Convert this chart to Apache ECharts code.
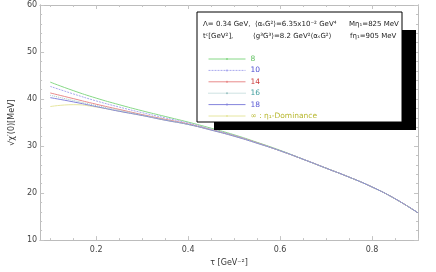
<!DOCTYPE html>
<html><head><meta charset="utf-8">
<script src="https://cdn.jsdelivr.net/npm/echarts@6/dist/echarts.min.js"></script>
<style>html,body{margin:0;padding:0;background:#fff}#c{width:436px;height:272px}</style>
</head><body><div id="c"></div>
<script>
const tau = [0.1,0.15,0.2,0.25,0.3,0.35,0.4,0.45,0.5,0.55,0.6,0.65,0.7,0.75,0.8,0.85,0.9];
const s8   = [43.6,41.8,40.2,38.8,37.5,36.3,35.1,33.8,32.4,30.8,29.1,27.2,25.3,23.4,21.3,18.8,15.8];
const s10  = [42.7,41.1,39.6,38.3,37.1,36.0,34.9,33.6,32.3,30.7,29.0,27.2,25.3,23.4,21.3,18.8,15.8];
const s14  = [41.3,40.1,38.9,37.8,36.7,35.7,34.7,33.5,32.2,30.7,29.0,27.2,25.3,23.4,21.3,18.8,15.8];
const s16  = [40.8,39.7,38.6,37.6,36.6,35.6,34.6,33.5,32.2,30.7,29.0,27.2,25.3,23.4,21.3,18.8,15.8];
const s18  = [40.3,39.4,38.4,37.4,36.5,35.5,34.6,33.4,32.1,30.6,29.0,27.2,25.3,23.4,21.3,18.8,15.8];
const sInf = [38.4,38.8,38.3,37.4,36.5,35.5,34.6,33.4,32.1,30.6,29.0,27.2,25.3,23.4,21.3,18.8,15.8];
const xMajor = [0.2,0.4,0.6,0.8];
const xMinor = [0.1,0.15,0.25,0.3,0.35,0.45,0.5,0.55,0.65,0.7,0.75,0.85,0.9];
const yMajor = [10,20,30,40,50,60];
const yMinor = [12,14,16,18,22,24,26,28,32,34,36,38,42,44,46,48,52,54,56,58];
const names = ['8','10','14','16','18','\u221E : \u03B7\u2081-Dominance'];
const lineColors = ['#86d886','#a8a8ee','#e88a8a','#9cc4c4','#8484dc','#e6e6a0'];
const textColors = ['#66c266','#4b4bd0','#cc3c3c','#3c9c9c','#5a5ad4','#b8b830'];
const lineTypes = ['solid',[2,1],'solid',[1,1],'solid','solid'];
const values = [s8,s10,s14,s16,s18,sInf];

const chart = echarts.init(document.getElementById('c'));
const G = {left:35, right:18, top:5, bottom:30};
const FONT = 'DejaVu Sans';
const axisLineStyle = {color:'#bcbcbc', width:1};
function xAx(pos, ticks, len, labels){
  return {type:'value', min:0.078, max:0.9, position:pos, gridIndex:0,
    axisLine:{show:true, onZero:false, lineStyle:axisLineStyle},
    axisTick:{show:true, inside:true, length:len, customValues:ticks, lineStyle:{color:'#c4c4c4'}},
    axisLabel:{show:labels, customValues:xMajor, color:'#444', fontSize:8, fontFamily:FONT, margin:6,
      formatter:v=>v.toFixed(1)},
    splitLine:{show:false}};
}
function yAx(pos, ticks, len, labels){
  return {type:'value', min:10, max:60, position:pos, gridIndex:0,
    axisLine:{show:true, onZero:false, lineStyle:axisLineStyle},
    axisTick:{show:true, inside:true, length:len, customValues:ticks, lineStyle:{color:'#c4c4c4'}},
    axisLabel:{show:labels, customValues:yMajor, color:'#444', fontSize:8, fontFamily:FONT, margin:3},
    splitLine:{show:false}};
}
const xAxes = [xAx('bottom',xMajor,4,true), xAx('bottom',xMinor,2,false), xAx('top',xMajor,4,false), xAx('top',xMinor,2,false)];
xAxes[0].name = '\u03C4 [GeV\u207B\u00B2]';
xAxes[0].nameLocation = 'middle';
xAxes[0].nameGap = 17;
xAxes[0].nameTextStyle = {color:'#333', fontSize:8, fontFamily:FONT};
const yAxes = [yAx('left',yMajor,4,true), yAx('left',yMinor,2,false), yAx('right',yMajor,4,false), yAx('right',yMinor,2,false)];
yAxes[0].name = '\u221A\u03C7\u2032(0)[MeV]';
yAxes[0].nameLocation = 'middle';
yAxes[0].nameGap = 18;
yAxes[0].nameTextStyle = {color:'#333', fontSize:8, fontFamily:FONT};

const order = [5,0,1,2,4,3];
const series = order.map(k => ({
  name: names[k], type:'line', xAxisIndex:0, yAxisIndex:0,
  data: tau.map((t,i)=>[t, values[k][i]]),
  smooth:true, showSymbol:false, symbol:'circle', symbolSize:2,
  lineStyle:{color:lineColors[k], width:1, type:lineTypes[k]},
  itemStyle:{color:lineColors[k]}, silent:true
}));

const bx = 197, by = 12, bw = 205, bh = 110;
const hdr = (x,y,t) => ({type:'text', z:12, x:x, y:y, style:{text:t, fill:'#222', fontSize:7, fontFamily:FONT, verticalAlign:'middle'}});
chart.setOption({
  animation:false,
  grid:G,
  xAxis:xAxes, yAxis:yAxes, series,
  legend:{orient:'vertical', left:203, top:50, itemWidth:37, itemHeight:2.5, itemGap:3.4, z:20,
    lineStyle:{width:1}, itemStyle:{borderWidth:0},
    textStyle:{fontSize:7.5, fontFamily:FONT},
    data: names.map((n,k)=>({name:n, textStyle:{color:textColors[k]}}))},
  graphic:[
    {type:'rect', z:10, shape:{x:214, y:30, width:202, height:100}, style:{fill:'#000'}},
    {type:'rect', z:11, shape:{x:bx, y:by, width:bw, height:bh}, style:{fill:'#fff', stroke:'#000', lineWidth:1}},
    hdr(203,24,'\u039B= 0.34 GeV,'),
    hdr(255,24,'\u27E8\u03B1\u209BG\u00B2\u27E9=6.35x10\u207B\u00B2 GeV\u2074'),
    hdr(349,24,'M\u03B7\u2081=825 MeV'),
    hdr(203,36,'t\u1D9C[GeV\u00B2],'),
    hdr(253,36,'\u27E8g\u00B3G\u00B3\u27E9=8.2 GeV\u00B2\u27E8\u03B1\u209BG\u00B2\u27E9'),
    hdr(350,36,'f\u03B7\u2081=905 MeV')
  ]
});
</script></body></html>
